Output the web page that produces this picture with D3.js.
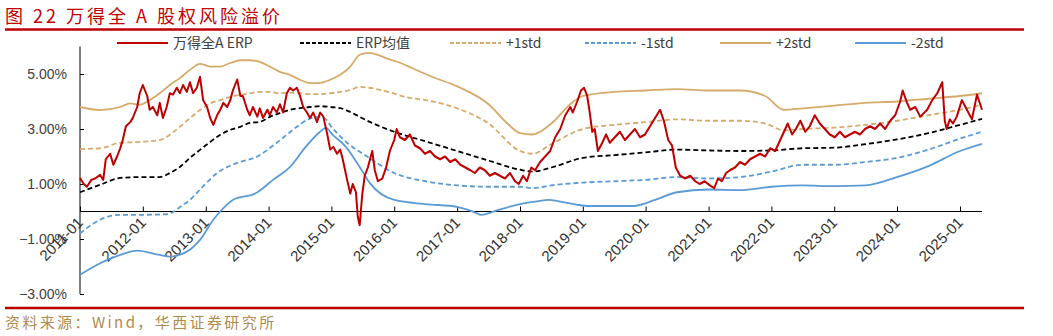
<!DOCTYPE html>
<html><head><meta charset="utf-8">
<script src="https://cdn.jsdelivr.net/npm/d3@7"></script>
<style>body{margin:0;background:#fff}svg{display:block}</style>
</head><body><svg id="c" width="1053" height="336"></svg>
<script>
// ---- data (decimal year, percent) ----
const xTickLabels = ["2011-01","2012-01","2013-01","2014-01","2015-01","2016-01","2017-01","2018-01","2019-01","2020-01","2021-01","2022-01","2023-01","2024-01","2025-01"];
const yTickValues = [-3,-1,1,3,5];
const seriesNames = ["万得全A ERP","ERP均值","+1std","-1std","+2std","-2std"];

const erpT = [2011.00,2011.06,2011.11,2011.18,2011.24,2011.32,2011.37,2011.41,2011.48,2011.53,2011.59,2011.64,2011.68,2011.73,2011.80,2011.84,2011.91,2011.95,2012.00,2012.07,2012.11,2012.16,2012.23,2012.27,2012.32,2012.38,2012.43,2012.48,2012.54,2012.59,2012.64,2012.70,2012.75,2012.80,2012.86,2012.91,2012.96,2013.02,2013.07,2013.12,2013.18,2013.23,2013.28,2013.34,2013.39,2013.43,2013.50,2013.55,2013.59,2013.66,2013.70,2013.75,2013.82,2013.86,2013.91,2013.98,2014.02,2014.07,2014.13,2014.18,2014.23,2014.29,2014.34,2014.39,2014.45,2014.50,2014.55,2014.61,2014.66,2014.71,2014.77,2014.82,2014.87,2014.93,2014.98,2015.03,2015.09,2015.14,2015.18,2015.25,2015.30,2015.34,2015.39,2015.42,2015.45,2015.49,2015.53,2015.58,2015.65,2015.69,2015.74,2015.81,2015.87,2015.93,2016.00,2016.04,2016.09,2016.17,2016.25,2016.33,2016.41,2016.49,2016.57,2016.65,2016.73,2016.81,2016.89,2016.97,2017.05,2017.13,2017.21,2017.28,2017.36,2017.44,2017.52,2017.60,2017.68,2017.76,2017.84,2017.92,2017.98,2018.05,2018.11,2018.18,2018.24,2018.32,2018.40,2018.48,2018.56,2018.64,2018.72,2018.80,2018.84,2018.91,2018.97,2019.02,2019.07,2019.11,2019.15,2019.19,2019.24,2019.31,2019.37,2019.43,2019.51,2019.59,2019.67,2019.75,2019.83,2019.91,2019.99,2020.07,2020.15,2020.23,2020.29,2020.36,2020.42,2020.48,2020.55,2020.63,2020.71,2020.79,2020.86,2020.94,2021.02,2021.09,2021.15,2021.21,2021.28,2021.34,2021.42,2021.50,2021.58,2021.66,2021.74,2021.82,2021.90,2021.98,2022.06,2022.14,2022.20,2022.26,2022.33,2022.39,2022.46,2022.54,2022.61,2022.69,2022.77,2022.85,2022.93,2023.01,2023.09,2023.17,2023.25,2023.33,2023.41,2023.49,2023.57,2023.65,2023.73,2023.81,2023.89,2023.97,2024.05,2024.09,2024.16,2024.21,2024.29,2024.37,2024.48,2024.56,2024.64,2024.72,2024.76,2024.79,2024.84,2024.89,2024.95,2025.03,2025.11,2025.19,2025.27,2025.35];
const erpV = [1.22,1.0,0.9,1.15,1.2,1.33,1.15,1.9,2.1,1.7,2.0,2.3,2.6,3.1,3.25,3.4,3.8,4.3,4.6,4.2,3.7,3.8,3.5,3.95,3.4,3.8,4.3,4.25,4.5,4.3,4.6,4.35,4.7,4.3,4.5,4.9,4.05,3.8,3.4,3.15,3.5,3.7,3.95,3.8,4.05,4.4,4.8,4.2,4.2,3.7,3.5,3.8,3.45,3.75,3.4,3.7,3.5,3.8,3.6,3.9,3.6,4.3,4.5,4.4,4.5,4.2,3.8,3.6,3.4,3.6,3.25,3.6,3.45,2.85,2.25,2.35,2.1,2.25,1.9,1.15,0.65,1.0,0.7,-0.2,-0.5,0.6,1.3,1.6,2.2,1.5,1.1,1.2,1.6,2.2,2.6,3.0,2.7,2.6,2.8,2.4,2.3,2.1,2.2,2.0,1.9,2.0,1.8,1.9,1.7,1.6,1.5,1.4,1.6,1.5,1.3,1.4,1.3,1.2,1.4,1.1,1.0,1.3,1.1,1.6,1.5,1.8,2.0,2.2,2.7,3.0,3.5,3.8,3.6,4.0,4.4,4.5,4.2,3.6,2.9,3.0,2.2,2.5,2.8,2.5,2.7,2.9,2.6,2.8,3.0,2.7,2.8,3.1,3.4,3.7,3.3,2.6,2.4,1.6,1.3,1.2,1.3,1.1,1.0,1.1,0.95,0.85,1.2,1.1,1.4,1.5,1.6,1.8,1.7,1.9,2.0,2.1,2.0,2.3,2.2,2.6,2.9,3.2,2.8,3.0,3.3,2.9,3.1,3.5,3.2,3.0,2.8,2.7,2.9,2.7,2.8,2.9,2.8,3.0,3.1,3.0,3.2,3.0,3.3,3.5,4.0,4.4,3.95,3.7,3.8,3.45,3.7,4.05,4.3,4.7,3.3,3.0,3.35,3.2,3.45,4.05,3.7,3.35,4.25,3.7];

const meanT = [2011.00,2011.32,2011.64,2011.95,2012.27,2012.43,2012.59,2012.75,2012.91,2013.07,2013.23,2013.39,2013.55,2013.70,2013.86,2014.02,2014.18,2014.34,2014.50,2014.66,2014.82,2014.98,2015.14,2015.30,2015.45,2015.61,2016.00,2016.50,2017.00,2017.50,2018.00,2018.20,2018.50,2019.00,2019.50,2020.00,2020.50,2021.00,2021.50,2022.00,2022.50,2023.00,2023.50,2024.00,2024.50,2025.00,2025.35];
const meanV = [0.70,0.97,1.22,1.25,1.25,1.40,1.62,1.95,2.24,2.53,2.79,2.97,3.08,3.22,3.26,3.44,3.58,3.70,3.76,3.80,3.83,3.80,3.76,3.62,3.44,3.26,2.90,2.55,2.20,1.85,1.52,1.45,1.60,1.95,2.05,2.15,2.25,2.22,2.20,2.22,2.30,2.32,2.45,2.62,2.85,3.15,3.37];

const p2T = [2011.00,2011.32,2011.64,2011.80,2011.95,2012.11,2012.27,2012.43,2012.59,2012.75,2012.91,2013.07,2013.23,2013.39,2013.55,2013.70,2013.86,2014.02,2014.18,2014.34,2014.50,2014.66,2014.82,2014.98,2015.14,2015.30,2015.45,2015.60,2015.90,2016.10,2016.30,2016.60,2017.00,2017.50,2017.80,2018.00,2018.20,2018.50,2018.80,2019.00,2019.50,2020.00,2020.50,2021.00,2021.50,2021.90,2022.20,2022.50,2023.00,2023.50,2024.00,2024.50,2025.00,2025.35];
const p2V = [3.80,3.69,3.80,3.93,3.88,4.05,4.30,4.60,4.85,5.15,5.37,5.27,5.27,5.40,5.50,5.50,5.44,5.27,5.08,4.97,4.79,4.67,4.68,4.79,4.97,5.27,5.70,5.77,5.55,5.40,5.20,4.90,4.55,3.90,3.20,2.85,2.80,3.20,3.90,4.20,4.35,4.40,4.45,4.40,4.40,4.20,3.70,3.75,3.85,3.95,4.00,4.10,4.20,4.30];

const p1T = [2011.00,2011.32,2011.64,2011.95,2012.27,2012.43,2012.59,2012.75,2012.91,2013.07,2013.23,2013.39,2013.55,2013.70,2013.86,2014.02,2014.18,2014.34,2014.50,2014.66,2014.82,2014.98,2015.14,2015.30,2015.45,2015.60,2015.90,2016.20,2016.50,2017.00,2017.50,2018.00,2018.20,2018.50,2019.00,2019.50,2020.00,2020.50,2021.00,2021.50,2021.90,2022.20,2022.50,2023.00,2023.50,2024.00,2024.50,2025.00,2025.35];
const p1V = [2.27,2.30,2.50,2.53,2.60,2.79,3.08,3.40,3.69,3.93,4.05,4.17,4.24,4.30,4.35,4.35,4.30,4.32,4.30,4.27,4.27,4.30,4.35,4.42,4.53,4.50,4.35,4.15,4.05,3.75,3.20,2.20,2.10,2.45,3.00,3.15,3.25,3.35,3.30,3.30,3.20,2.95,3.00,3.05,3.15,3.30,3.50,3.70,3.88];

const m1T = [2011.00,2011.32,2011.64,2011.95,2012.38,2012.64,2012.75,2012.91,2013.18,2013.50,2013.82,2014.13,2014.45,2014.61,2014.77,2014.85,2015.04,2015.25,2015.57,2016.00,2016.50,2017.00,2017.50,2018.00,2018.20,2018.50,2019.00,2019.50,2020.00,2020.50,2021.00,2021.50,2022.00,2022.50,2023.00,2023.50,2024.00,2024.50,2025.00,2025.35];
const m1V = [-0.80,-0.30,-0.12,-0.12,-0.10,0.24,0.42,0.80,1.40,1.77,2.00,2.50,3.08,3.33,3.44,3.44,2.97,2.50,2.00,1.40,1.10,0.95,0.90,0.90,0.85,0.95,1.05,1.10,1.15,1.25,1.20,1.25,1.45,1.70,1.70,1.80,1.95,2.25,2.65,2.90];

const m2T = [2011.00,2011.32,2011.64,2011.91,2012.27,2012.43,2012.70,2012.91,2013.12,2013.23,2013.43,2013.80,2014.07,2014.34,2014.59,2014.82,2014.91,2015.02,2015.23,2015.45,2015.61,2016.00,2016.50,2017.00,2017.30,2017.38,2017.66,2018.00,2018.30,2018.45,2018.60,2018.90,2019.10,2019.80,2020.15,2020.50,2021.00,2021.50,2022.00,2022.50,2023.00,2023.50,2024.00,2024.50,2025.00,2025.35];
const m2V = [-2.30,-1.88,-1.58,-1.42,-1.58,-1.64,-1.46,-1.03,-0.30,0.00,0.42,0.67,1.15,1.62,2.35,2.90,3.04,2.79,2.35,1.62,1.04,0.42,0.27,0.17,-0.05,-0.12,0.06,0.27,0.38,0.42,0.38,0.25,0.20,0.20,0.42,0.70,0.80,0.78,0.90,0.95,0.92,0.95,1.25,1.65,2.20,2.46];

// ---- drawing ----
const svg = d3.select("#c");
const toDate = t => { const yr = Math.floor(t); return new Date(Date.UTC(yr,0,1) + (t - yr) * 365.25 * 86400000); };
const x = d3.scaleUtc().domain([new Date(Date.UTC(2011,0,1)), toDate(2025.35)]).range([80, 982]);
const y = d3.scaleLinear().domain([-3, 6]).range([294, 46.5]);

const red = "#C00000", tan = "#D6AA6A", blue = "#5B9BD5", txt = "#404040";

// title
svg.append("text").attr("x", 5).attr("y", 23).attr("fill", red)
  .style("font", "18px 'Noto Sans CJK SC'").style("letter-spacing", "3px").text("图 22 万得全 A 股权风险溢价");
svg.append("line").attr("x1", 5).attr("x2", 1024).attr("y1", 29.5).attr("y2", 29.5).attr("stroke", red).attr("stroke-width", 2.5);
svg.append("line").attr("x1", 5).attr("x2", 1024).attr("y1", 308).attr("y2", 308).attr("stroke", red).attr("stroke-width", 2.5);
svg.append("text").attr("x", 5).attr("y", 328).attr("fill", "#B08A4E")
  .style("font", "15px 'Noto Sans CJK SC'").style("letter-spacing", "2.4px").text("资料来源：Wind，华西证券研究所");

// axes
const yAxis = d3.axisRight(y).tickValues(yTickValues).tickSize(4).tickFormat("");
svg.append("g").attr("transform", "translate(80,0)").call(yAxis)
  .call(g => g.select(".domain").attr("d", `M0,${y(6)}V${y(-3)}`).attr("stroke", "#000"))
  .call(g => g.selectAll(".tick line").attr("stroke", "#000"));
yTickValues.forEach(v => {
  svg.append("text").attr("x", 67).attr("y", y(v) + 5).attr("text-anchor", "end").attr("fill", txt)
    .style("font", "14px 'Liberation Sans'").text(d3.format(".2f")(v) + "%");
});

const xTickDates = xTickLabels.map(s => new Date(Date.UTC(+s.slice(0,4), +s.slice(5,7) - 1, 1)));
const xAxis = d3.axisTop(x).tickValues(xTickDates).tickSize(5).tickFormat("");
svg.append("g").attr("transform", `translate(0,${y(0)})`).call(xAxis)
  .call(g => g.select(".domain").attr("d", `M80,0H982`).attr("stroke", "#000"))
  .call(g => g.selectAll(".tick line").attr("stroke", "#000"));
xTickDates.forEach((d, i) => {
  svg.append("text").attr("transform", `translate(${x(d) + 4},${y(0) + 12}) rotate(-45)`)
    .attr("text-anchor", "end").attr("fill", "#333").style("font", "15px 'Liberation Sans'").text(xTickLabels[i]);
});

// lines
const mk = (T, V) => T.map((t, i) => ({d: toDate(t), v: V[i]}));
const lineSmooth = d3.line().x(p => x(p.d)).y(p => y(p.v)).curve(d3.curveMonotoneX);
const lineRaw = d3.line().x(p => x(p.d)).y(p => y(p.v));
const defs = [
  {T: m2T, V: m2V, c: blue, dash: null, w: 1.8},
  {T: m1T, V: m1V, c: blue, dash: "5,3", w: 1.8},
  {T: p2T, V: p2V, c: tan, dash: null, w: 1.8},
  {T: p1T, V: p1V, c: tan, dash: "5,3", w: 1.8},
  {T: meanT, V: meanV, c: "#000", dash: "5,3", w: 1.8},
];
defs.forEach(s => {
  svg.append("path").attr("d", lineSmooth(mk(s.T, s.V))).attr("fill", "none")
    .attr("stroke", s.c).attr("stroke-width", s.w).attr("stroke-dasharray", s.dash);
});
svg.append("path").attr("d", lineRaw(mk(erpT, erpV))).attr("fill", "none")
  .attr("stroke", red).attr("stroke-width", 2).attr("stroke-linejoin", "round");

// legend
const legend = [
  {x: 117, c: red, dash: null},
  {x: 300, c: "#000", dash: "4,2"},
  {x: 450, c: tan, dash: "4,2"},
  {x: 585, c: blue, dash: "4,2"},
  {x: 720, c: tan, dash: null},
  {x: 855, c: blue, dash: null},
];
legend.forEach((l, i) => {
  svg.append("line").attr("x1", l.x).attr("x2", l.x + 51).attr("y1", 43).attr("y2", 43)
    .attr("stroke", l.c).attr("stroke-width", 1.8).attr("stroke-dasharray", l.dash);
  svg.append("text").attr("x", l.x + 56).attr("y", 48).attr("fill", txt)
    .style("font", "14px 'Noto Sans CJK SC'").text(seriesNames[i]);
});
</script></body></html>
